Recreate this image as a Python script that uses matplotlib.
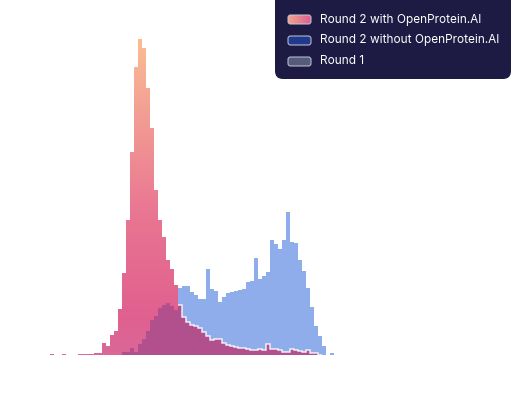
import numpy as np
import matplotlib.pyplot as plt
from matplotlib.colors import LinearSegmentedColormap
from matplotlib.patches import FancyBboxPatch

# histogram bins (74 equal-width bins)
edges = np.arange(75)

# Round 2 with OpenProtein.AI
with_ai = [0, 0, 0, 0.6, 0, 0, 0.6, 0.5, 0, 0,
           1, 1.2, 1.3, 1.5, 1.6, 2, 12, 9, 20, 24,
           46, 82, 135, 203, 288, 316, 307, 267, 227, 165,
           135, 118, 95, 86, 70, 0, 0, 0, 0, 0,
           0, 0, 0, 0, 0, 0, 0, 0, 0, 0,
           0, 0, 0, 0, 0, 0, 0, 0, 0, 0,
           0, 0, 0, 0, 0, 0, 0, 0, 0, 0,
           0, 0, 0, 0]

# Round 2 without OpenProtein.AI
without_ai = [0, 0, 0, 0, 0, 0, 0, 0, 0, 0,
              0, 0, 0, 0, 0, 0, 0, 0, 0, 0,
              0, 0, 0, 0, 0, 0, 0, 0, 0, 0,
              0, 0, 0, 0, 0, 67, 69, 69, 63, 60,
              56, 56, 86, 66, 64, 53, 58, 62, 63, 64,
              65, 66, 73, 74, 97, 76, 79, 83, 115, 111,
              106, 115, 143, 113, 112, 95, 84, 67, 48, 29,
              19, 9, 0, 2]

# Round 1
round1 = [0, 0, 0, 0, 0, 0, 0, 0, 0, 0,
          0, 0, 0, 0, 0, 0, 0, 0, 0, 0,
          0, 3, 3, 7, 3, 11, 16, 24, 35, 39,
          47, 50, 52, 49, 45, 50, 38, 33, 30, 29,
          27, 23, 19, 15, 16, 16, 12, 10, 9, 8,
          7, 7, 6, 5.5, 5, 6.5, 5, 11, 6, 6,
          5, 3.5, 3.5, 6.5, 5, 4.5, 3, 5, 2.5, 2,
          0, 0, 0, 0]

labels = ["Round 2 with OpenProtein.AI", "Round 2 without OpenProtein.AI", "Round 1"]

fig = plt.figure(figsize=(5.12, 3.99), dpi=100)
ax = fig.add_axes([0, 0, 1, 1])

# pink histogram with vertical gradient
pink = ax.stairs(with_ai, edges, fill=True, color='none', zorder=1)
pink_cmap = LinearSegmentedColormap.from_list(
    'pink', [(0, '#da6899'), (0.12, '#e0608f'), (0.45, '#e97692'),
             (0.75, '#f29c94'), (1, '#fbbd93')])
grad = np.linspace(0, 1, 256).reshape(-1, 1)
im = ax.imshow(grad, cmap=pink_cmap, origin='lower', aspect='auto',
               extent=[0, 74, 0, max(with_ai)], zorder=1)
im.set_clip_path(pink)

ax.stairs(without_ai, edges, fill=True, color='#8fadea', zorder=2)
ax.stairs(round1, edges, fill=True, color='#b24f8d', zorder=3)
# white outline where round 1 sits over the blue
ax.stairs(round1[35:71], edges[35:72], baseline=None, color='white',
          lw=1.1, alpha=0.85, zorder=4)

ax.set_xlim(-9.5, 118.5)
ax.set_ylim(-44, 355)
ax.axis('off')

# legend box drawn in pixel units
lax = fig.add_axes([0, 0, 1, 1])
lax.set_xlim(0, 512)
lax.set_ylim(399, 0)
lax.axis('off')

box = FancyBboxPatch((275, -10), 236, 89, boxstyle="round,pad=0,rounding_size=8",
                     facecolor='#1d1b43', edgecolor='none')
lax.add_patch(box)

swatch_colors = [None, '#1f3a8c', '#565a7b']
rows = [19.5, 40.5, 61.5]
for lab, col, yc in zip(labels, swatch_colors, rows):
    sw = FancyBboxPatch((288, yc - 4.5), 23, 9, boxstyle="round,pad=0,rounding_size=2.5",
                        facecolor=col if col else 'none', edgecolor='#c9c9da', lw=0.7,
                        zorder=3)
    lax.add_patch(sw)
    if col is None:
        sw_cmap = LinearSegmentedColormap.from_list('sw', ['#f0a48c', '#de5f90'])
        g = lax.imshow(np.linspace(0, 1, 64).reshape(1, -1), cmap=sw_cmap, aspect='auto',
                       extent=[288, 311, yc + 4.5, yc - 4.5], zorder=2)
        g.set_clip_path(sw)
    lax.text(320, yc, lab, color='white', fontsize=8.5, family='Inter', va='center')

lax.set_xlim(0, 512)
lax.set_ylim(399, 0)

fig.savefig("out.png", dpi=100)
